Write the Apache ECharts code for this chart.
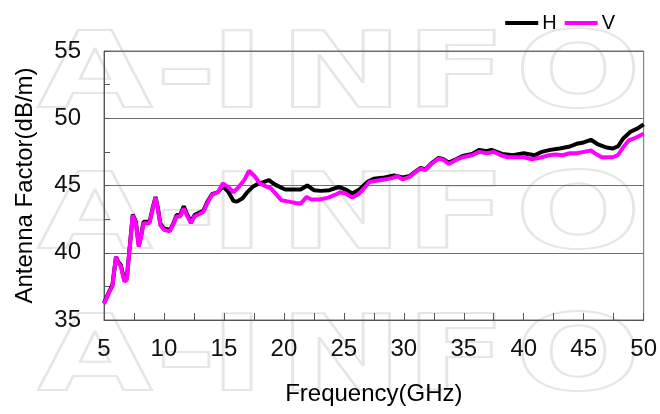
<!DOCTYPE html>
<html>
<head>
<meta charset="utf-8">
<script src="https://cdn.jsdelivr.net/npm/echarts@6/dist/echarts.min.js"></script>
<style>
html,body{margin:0;padding:0;background:#fff;}
#chart{width:660px;height:414px;}
</style>
</head>
<body>
<div id="chart"></div>
<script>
// ---- Data ----
const seriesNames = ['H', 'V'];
const xTicks = [5, 10, 15, 20, 25, 30, 35, 40, 45, 50];
const yTicks = [35, 40, 45, 50, 55];

const vFreq = [5.0,5.4,5.7,6.0,6.2,6.4,6.7,6.9,7.1,7.4,7.65,7.9,8.1,8.3,8.6,8.8,9.05,9.3,9.5,9.7,10.0,10.5,10.75,11.05,11.35,11.65,11.9,12.25,12.55,13.0,13.3,13.6,14.0,14.5,14.9,15.35,15.8,16.25,16.7,17.1,17.6,18.0,18.6,18.9,19.4,19.8,20.4,21.0,21.4,21.9,22.3,22.9,23.7,24.25,24.7,25.15,25.7,26.2,26.6,27.1,27.7,28.4,29.0,29.45,29.9,30.5,30.9,31.4,31.8,32.3,32.9,33.3,33.75,34.35,34.9,35.7,36.3,36.9,37.5,38.1,38.65,39.4,40.0,40.7,41.5,42.1,42.65,43.25,43.85,44.4,45.0,45.6,46.1,46.5,47.4,47.85,48.3,48.75,49.2,49.65,50.0];
const vVals = [36.2,37.0,37.5,39.7,39.2,39.0,37.85,38.0,39.95,42.8,42.2,40.45,41.2,42.2,42.2,42.2,43.2,44.1,43.2,42.05,41.7,41.6,42.05,42.7,42.7,43.3,42.8,42.2,42.7,42.9,43.05,43.65,44.3,44.5,45.15,44.9,44.5,44.9,45.4,46.1,45.65,45.15,44.9,44.8,44.3,43.9,43.8,43.7,43.65,44.15,43.95,43.95,44.1,44.3,44.5,44.4,44.1,44.35,44.7,45.25,45.35,45.45,45.55,45.7,45.45,45.65,45.95,46.25,46.15,46.6,47.0,46.9,46.6,46.9,47.1,47.25,47.5,47.4,47.5,47.25,47.1,47.1,47.1,46.95,47.1,47.25,47.3,47.25,47.4,47.4,47.5,47.6,47.3,47.1,47.1,47.25,47.85,48.35,48.5,48.7,48.85];

const hFreq = [5.0,5.4,5.7,6.0,6.2,6.4,6.7,6.9,7.1,7.4,7.65,7.9,8.1,8.3,8.6,8.8,9.05,9.3,9.5,9.7,10.0,10.5,10.75,11.05,11.35,11.65,11.9,12.25,12.55,13.0,13.3,13.6,14.0,14.5,14.9,15.35,15.8,16.1,16.55,17.0,17.4,17.9,18.3,18.75,19.2,19.65,20.1,20.85,21.4,21.95,22.5,23.1,23.8,24.6,25.15,25.7,26.3,26.95,27.5,28.4,29.2,29.9,30.5,30.9,31.4,31.8,32.3,32.9,33.3,33.75,34.35,34.9,35.7,36.3,36.9,37.3,38.2,39.1,40.0,40.9,41.5,42.2,43.0,43.85,44.4,45.0,45.6,46.2,46.8,47.4,47.85,48.3,48.9,49.5,50.0];
const hVals = [36.25,37.05,37.6,39.7,39.3,39.1,37.95,38.1,40.0,42.85,42.3,40.55,41.3,42.3,42.3,42.3,43.3,44.15,43.3,42.15,41.8,41.7,42.1,42.8,42.8,43.45,42.9,42.3,42.8,43.0,43.15,43.75,44.35,44.5,44.95,44.55,43.85,43.8,44.05,44.55,44.9,45.15,45.25,45.4,45.1,44.9,44.7,44.7,44.7,45.0,44.65,44.6,44.65,44.9,44.7,44.4,44.7,45.25,45.5,45.6,45.75,45.6,45.7,46.0,46.3,46.2,46.65,47.05,46.95,46.7,46.95,47.2,47.35,47.65,47.55,47.65,47.35,47.25,47.4,47.25,47.5,47.65,47.75,47.9,48.1,48.2,48.4,48.05,47.85,47.75,47.9,48.5,49.0,49.25,49.55];

const hData = hFreq.map((f, i) => [f, hVals[i]]);
const vData = vFreq.map((f, i) => [f, vVals[i]]);

// ---- Watermark (outlined "A-INFO", three rows) ----
const wmLetters = ['A', '-', 'I', 'N', 'F', 'O'];
const wmX = [95, 186, 237, 341, 456, 578];
const wmY = [79, 220, 362];
const wmElements = [];
wmY.forEach(y => {
  wmLetters.forEach((ch, i) => {
    wmElements.push({
      type: 'text',
      x: wmX[i], y: y,
      scaleX: 1.4, scaleY: 1,
      silent: true,
      z: -10,
      style: {
        text: ch,
        fontSize: 106,
        fontWeight: 'bold',
        fontFamily: '"DejaVu Sans", sans-serif',
        fill: 'rgba(255,255,255,0)',
        stroke: '#e6e6e6',
        lineWidth: 2,
        align: 'center', verticalAlign: 'middle'
      }
    });
  });
});

const chart = echarts.init(document.getElementById('chart'), null, {renderer: 'canvas'});
const FONT = '"Liberation Sans", Arial, sans-serif';
chart.setOption({
  animation: false,
  backgroundColor: '#ffffff',
  textStyle: {fontFamily: FONT},
  graphic: {elements: wmElements},
  legend: {
    data: seriesNames,
    right: 40, top: 8,
    icon: 'rect',
    itemWidth: 33, itemHeight: 4,
    itemGap: 8,
    textStyle: {fontSize: 20, color: '#000', fontFamily: FONT, padding: [0,0,0,-1]}
  },
  grid: {
    left: 104, right: 15, top: 51, bottom: 94,
    show: true, borderColor: '#6e6e6e', borderWidth: 1, backgroundColor: 'transparent'
  },
  xAxis: {
    type: 'value', min: xTicks[0], max: xTicks[xTicks.length - 1], interval: 5,
    name: 'Frequency(GHz)', nameLocation: 'middle', nameGap: 62,
    nameTextStyle: {fontSize: 24, color: '#000', fontFamily: FONT},
    axisLine: {onZero: false, lineStyle: {color: '#555', width: 1}},
    axisTick: {show: true, inside: true, length: 7, lineStyle: {color: '#555'}},
    minorTick: {show: true, splitNumber: 2, length: 7, lineStyle: {color: '#555'}},
    axisLabel: {fontSize: 24, color: '#111', margin: 17, fontFamily: FONT},
    splitLine: {show: false}
  },
  yAxis: {
    type: 'value', min: yTicks[0], max: yTicks[yTicks.length - 1], interval: 5,
    name: 'Antenna Factor(dB/m)', nameLocation: 'middle', nameGap: 67,
    nameTextStyle: {fontSize: 24, color: '#000', fontFamily: FONT},
    axisLine: {onZero: false, lineStyle: {color: '#555', width: 1}},
    axisTick: {show: true, inside: true, length: 6, lineStyle: {color: '#555'}},
    minorTick: {show: true, splitNumber: 2, length: 6, lineStyle: {color: '#555'}},
    axisLabel: {fontSize: 24, color: '#111', margin: 23, fontFamily: FONT},
    splitLine: {show: true, lineStyle: {color: '#6e6e6e', width: 1}}
  },
  series: [
    {
      name: seriesNames[0], type: 'line', data: hData,
      showSymbol: false, symbol: 'none',
      itemStyle: {color: '#000000'},
      lineStyle: {color: '#000000', width: 4},
      z: 3
    },
    {
      name: seriesNames[1], type: 'line', data: vData,
      showSymbol: false, symbol: 'none',
      itemStyle: {color: '#ff00ff'},
      lineStyle: {color: '#ff00ff', width: 4},
      z: 4
    }
  ]
});
</script>
</body>
</html>
